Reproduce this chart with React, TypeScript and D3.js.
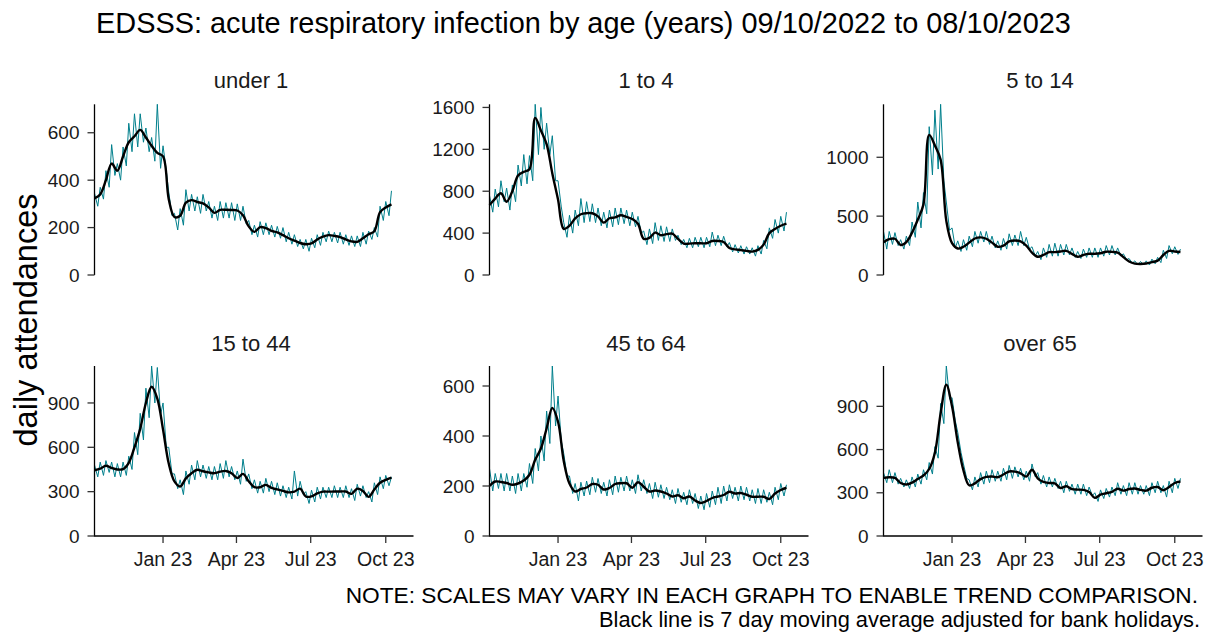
import React from 'react';
import * as d3 from 'd3';

// ---------- data ----------
const startDate = new Date(2022, 9, 9); // 09/10/2022, first day of the series
const axisEndDate = new Date(2023, 10, 4);
const xTickDates = [new Date(2023, 0, 1), new Date(2023, 3, 1), new Date(2023, 6, 1), new Date(2023, 9, 1)];
const xTickLabels = ['Jan 23', 'Apr 23', 'Jul 23', 'Oct 23'];

const panelTitles = ['under 1', '1 to 4', '5 to 14', '15 to 44', '45 to 64', 'over 65'];

// weekly readings: 7-day average (black), weekly high spike and weekly low (teal)
const under1Avg = [323,340,400,470,440,500,560,585,612,580,545,515,500,320,245,250,305,316,308,302,285,262,275,275,274,272,252,205,182,202,198,186,180,168,155,145,135,130,133,150,162,168,165,160,150,142,140,155,172,185,265,285,298];
const under1High = [345,370,440,550,470,540,640,680,680,620,580,720,545,350,260,280,360,340,330,340,310,290,310,305,305,300,290,230,210,225,220,210,205,200,180,170,150,150,155,170,180,185,180,180,170,165,165,180,185,200,290,310,355];
const under1Low = [290,320,370,420,400,460,520,540,560,520,480,450,440,250,190,210,270,270,260,270,240,230,240,240,230,230,215,170,160,170,170,160,155,140,130,120,110,100,115,125,140,140,135,130,125,120,120,130,150,160,230,250];
const under1Ticks = [0, 200, 400, 600];

const age1to4Avg = [669,730,780,700,800,950,985,1010,1500,1380,1250,970,720,440,470,540,580,590,590,560,500,542,550,570,555,535,490,345,355,405,380,390,395,345,300,300,303,303,303,325,325,315,258,245,238,230,223,240,290,400,440,470,490];
const age1to4High = [760,820,900,830,860,1050,1150,1140,1630,1600,1450,1330,900,500,570,620,730,700,680,640,600,620,640,640,620,600,560,420,440,500,470,460,440,380,340,350,360,360,360,410,380,370,310,290,280,270,260,280,330,450,530,560,600];
const age1to4Low = [600,650,700,620,700,850,870,900,1150,1200,1150,900,650,360,400,470,500,510,500,470,450,460,480,490,470,460,400,290,300,330,320,320,330,290,260,260,270,260,270,280,280,270,220,210,200,200,180,200,250,350,400,420];
const age1to4Ticks = [0, 400, 800, 1200, 1600];

const age5to14Avg = [279,305,308,255,280,360,470,600,1190,1100,980,460,270,225,240,275,310,320,308,275,240,250,285,293,285,250,190,155,170,194,194,200,205,180,155,170,180,180,185,198,196,190,152,115,97,94,98,110,122,170,205,200,195];
const age5to14High = [370,370,360,300,330,450,620,700,1260,1400,1450,620,400,290,300,330,370,370,370,330,290,310,350,340,370,320,240,200,230,260,270,260,260,230,200,220,230,230,230,250,250,230,180,140,120,115,120,135,150,210,250,240,220];
const age5to14Low = [220,260,250,220,250,320,400,520,850,900,800,380,230,200,210,240,270,280,260,230,210,220,250,250,250,220,160,130,150,160,160,170,170,150,140,150,150,150,160,170,170,160,130,100,85,85,85,95,105,140,180,175];
const age5to14Ticks = [0, 500, 1000];

const age15to44Avg = [445,455,475,460,450,452,495,600,725,900,1010,930,720,490,369,335,390,425,448,438,430,425,435,440,425,392,420,370,330,330,346,325,315,305,295,300,320,267,268,288,300,300,301,301,301,285,320,305,265,315,360,380,395];
const age15to44High = [480,500,510,500,490,500,540,700,830,1000,1150,1140,900,600,420,380,440,480,510,480,470,470,490,510,470,440,520,420,380,370,390,370,360,340,330,440,370,300,310,330,330,330,340,330,340,320,350,340,300,360,400,410,400];
const age15to44Low = [400,410,430,400,400,410,450,550,650,800,900,820,600,420,320,280,350,380,400,390,380,380,390,400,380,350,370,320,290,290,300,280,270,260,250,270,280,220,230,250,260,260,260,260,260,240,270,260,230,280,320,340];
const age15to44Ticks = [0, 300, 600, 900];

const age45to64Avg = [200,218,216,212,205,210,222,245,305,350,430,512,457,300,210,178,188,194,208,205,186,192,208,211,211,193,215,197,178,182,178,170,158,163,151,158,142,132,140,152,158,164,177,170,172,165,157,157,157,148,170,184,193];
const age45to64High = [270,250,250,250,240,250,250,290,350,400,500,680,560,330,240,210,215,220,235,230,215,225,240,235,240,225,245,225,210,215,205,195,185,190,175,185,170,160,170,180,195,200,205,195,200,195,185,190,185,175,195,210,205];
const age45to64Low = [180,190,180,180,170,180,195,210,260,300,370,440,380,240,170,140,160,165,175,170,160,165,175,180,180,170,180,170,150,155,150,145,130,135,125,130,110,105,115,125,130,140,150,140,145,140,130,130,135,125,145,160];
const age45to64Ticks = [0, 200, 400, 600];

const over65Avg = [403,408,403,368,357,370,396,420,465,578,850,1050,900,650,455,352,365,395,410,413,408,427,448,447,435,412,460,400,375,368,366,333,345,325,322,320,305,265,287,297,307,328,315,326,330,320,315,335,340,318,340,368,378];
const over65High = [440,460,440,400,390,410,430,460,510,620,920,1180,960,720,500,390,410,440,450,460,450,470,490,480,470,450,500,440,420,410,400,380,380,360,360,360,340,300,320,330,340,370,350,370,370,350,350,370,380,350,380,400,400];
const over65Low = [370,370,360,340,330,340,360,390,430,540,780,950,800,580,400,320,340,360,370,380,380,390,400,410,390,380,410,360,340,340,330,300,310,290,290,280,280,240,260,270,280,290,280,290,290,290,280,300,300,270,300,330];
const over65Ticks = [0, 300, 600, 900];

const avgSeries = [under1Avg, age1to4Avg, age5to14Avg, age15to44Avg, age45to64Avg, over65Avg];
const highSeries = [under1High, age1to4High, age5to14High, age15to44High, age45to64High, over65High];
const lowSeries = [under1Low, age1to4Low, age5to14Low, age15to44Low, age45to64Low, over65Low];
const tickSets = [under1Ticks, age1to4Ticks, age5to14Ticks, age15to44Ticks, age45to64Ticks, over65Ticks];

// ---------- layout ----------
const W = 1207;
const H = 632;
const colLeft = [94.5, 489.5, 883.5];
const panelW = 319;
const rowTop = [104.3, 366];
const rowBottom = [275, 536];
const FONT = "'Liberation Sans', Arial, Helvetica, sans-serif";
const TEAL = '#007f8c';

type Pt = { date: Date; v: number };

function Panel({ idx }: { idx: number }) {
  const col = idx % 3;
  const row = Math.floor(idx / 3);
  const left = colLeft[col];
  const top = rowTop[row];
  const bottom = rowBottom[row];
  const avg = avgSeries[idx];
  const high = highSeries[idx];
  const low = lowSeries[idx];
  const ticks = tickSets[idx];

  const x = d3.scaleTime().domain([startDate, axisEndDate]).range([left, left + panelW]);
  const yMax = d3.max(high) as number;
  const y = d3.scaleLinear().domain([0, yMax]).range([bottom, top]);

  const avgPts: Pt[] = avg.map((v, k) => ({ date: d3.timeDay.offset(startDate, 7 * k), v }));
  const rawPts: Pt[] = [];
  high.forEach((h, k) => {
    rawPts.push({ date: d3.timeDay.offset(startDate, 7 * k), v: h });
    if (k < low.length) rawPts.push({ date: d3.timeDay.offset(startDate, 7 * k + 4), v: low[k] });
  });

  const line = d3.line<Pt>().x((d) => x(d.date)).y((d) => y(d.v));
  const smooth = d3.line<Pt>().x((d) => x(d.date)).y((d) => y(d.v)).curve(d3.curveCatmullRom.alpha(0.5));

  return (
    <g>
      <text x={left + panelW / 2 - 3} y={row === 0 ? 88 : 351} textAnchor="middle" fontSize={22} fontFamily={FONT} fill="#1a1a1a">
        {panelTitles[idx]}
      </text>
      <path d={line(rawPts) || ''} fill="none" stroke={TEAL} strokeWidth={1} />
      <path d={smooth(avgPts) || ''} fill="none" stroke="#000" strokeWidth={2.4} strokeLinejoin="round" />
      {/* y axis */}
      <line x1={left} x2={left} y1={y(0) + (row === 1 ? 0.6 : 0)} y2={top} stroke="#000" strokeWidth={1.3} />
      {ticks.map((t) => (
        <g key={t}>
          <line x1={left - 7} x2={left} y1={y(t)} y2={y(t)} stroke="#333" strokeWidth={1.3} />
          <text x={left - 15} y={y(t)} dy="0.35em" textAnchor="end" fontSize={19} fontFamily={FONT} fill="#1a1a1a">
            {t}
          </text>
        </g>
      ))}
      {row === 1 && (
        <g>
          <line x1={left} x2={left + panelW} y1={bottom} y2={bottom} stroke="#000" strokeWidth={1.3} />
          {xTickDates.map((d, i) => (
            <g key={i}>
              <line x1={x(d)} x2={x(d)} y1={bottom} y2={bottom + 7} stroke="#333" strokeWidth={1.3} />
              <text x={x(d)} y={bottom + 30} textAnchor="middle" fontSize={19.5} fontFamily={FONT} fill="#1a1a1a">
                {xTickLabels[i]}
              </text>
            </g>
          ))}
        </g>
      )}
    </g>
  );
}

export default function App() {
  return (
    <svg width={W} height={H} style={{ position: 'absolute', left: 0, top: 0, background: '#fff' }}>
      <rect width={W} height={H} fill="#fff" />
      <text x={96} y={33} fontSize={28.9} fontFamily={FONT} fill="#000">
        EDSSS: acute respiratory infection by age (years) 09/10/2022 to 08/10/2023
      </text>
      <text transform="translate(37,320) rotate(-90)" textAnchor="middle" fontSize={32.5} fontFamily={FONT} fill="#000">
        daily attendances
      </text>
      {panelTitles.map((_, i) => (
        <Panel key={i} idx={i} />
      ))}
      <text x={1198} y={603} textAnchor="end" fontSize={22.7} fontFamily={FONT} fill="#000">
        NOTE: SCALES MAY VARY IN EACH GRAPH TO ENABLE TREND COMPARISON.
      </text>
      <text x={1200} y={627} textAnchor="end" fontSize={21.8} fontFamily={FONT} fill="#000">
        Black line is 7 day moving average adjusted for bank holidays.
      </text>
    </svg>
  );
}
